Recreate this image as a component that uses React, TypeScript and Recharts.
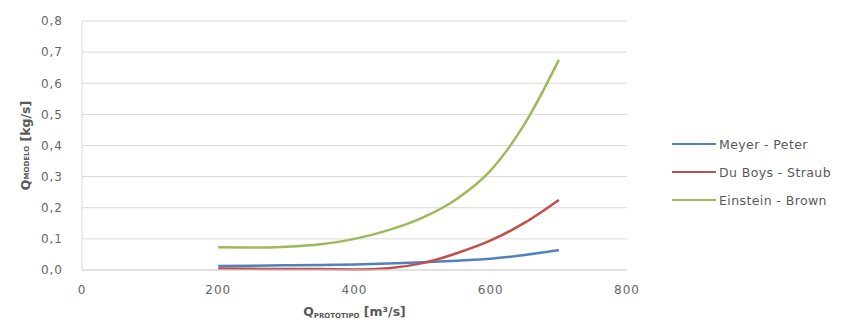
import { LineChart, Line, XAxis, YAxis, CartesianGrid, Legend } from 'recharts';

const flows = [200, 250, 300, 350, 400, 450, 500, 550, 600, 650, 700];
const meyerPeter = [0.013, 0.014, 0.015, 0.016, 0.018, 0.021, 0.025, 0.03, 0.036, 0.048, 0.064];
const duBoysStraub = [0.005, 0.004, 0.003, 0.003, 0.002, 0.006, 0.022, 0.054, 0.095, 0.152, 0.225];
const einsteinBrown = [0.073, 0.072, 0.075, 0.083, 0.1, 0.128, 0.168, 0.228, 0.32, 0.47, 0.675];

const xTicks = [0, 200, 400, 600, 800];
const yTicks = [0, 0.1, 0.2, 0.3, 0.4, 0.5, 0.6, 0.7, 0.8];

const seriesNames = ['Meyer - Peter', 'Du Boys - Straub', 'Einstein - Brown'];
const colors = ['#4F81BD', '#C0504D', '#9BBB59'];

const data = flows.map((q, i) => ({
  q,
  mp: meyerPeter[i],
  dbs: duBoysStraub[i],
  eb: einsteinBrown[i],
}));

const font = '"DejaVu Sans", sans-serif';
const tickStyle = { fontSize: 12, fill: '#666', fontFamily: font, letterSpacing: 1 };

function LegendBox() {
  return (
    <div style={{ fontFamily: font, fontSize: 12.5, color: '#595959', letterSpacing: 0.4, textAlign: 'left' }}>
      {seriesNames.map((name, i) => (
        <div key={name} style={{ display: 'flex', alignItems: 'center', height: 28 }}>
          <span style={{ width: 44, height: 2.5, background: colors[i], marginRight: 3 }} />
          <span>{name}</span>
        </div>
      ))}
    </div>
  );
}

function XTitle(props: any) {
  const { viewBox } = props;
  const cx = viewBox.x + viewBox.width / 2;
  return (
    <text x={cx} y={316} textAnchor="middle" fontFamily={font} fontSize={12.5} fontWeight="bold" fill="#595959">
      Q<tspan fontSize={7} dy={2}>PROTOTIPO</tspan>
      <tspan dy={-2}> [m³/s]</tspan>
    </text>
  );
}

function YTitle(props: any) {
  const { viewBox } = props;
  const cy = viewBox.y + viewBox.height / 2;
  return (
    <text
      x={25}
      y={cy}
      transform={`rotate(-90, 25, ${cy})`}
      textAnchor="middle"
      dominantBaseline="central"
      fontFamily={font}
      fontSize={12.5}
      fontWeight="bold"
      fill="#595959"
    >
      Q<tspan fontSize={7} dy={2}>MODELO</tspan>
      <tspan dy={-2}> [kg/s]</tspan>
    </text>
  );
}

export default function App() {
  return (
    <div style={{ position: 'absolute', left: 0, top: 0, width: 855, height: 325, background: '#fff' }}>
      <LineChart width={855} height={325} data={data} margin={{ top: 21, right: 228, bottom: 25, left: 42 }}>
        <CartesianGrid vertical={false} stroke="#d9d9d9" />
        <XAxis
          dataKey="q"
          type="number"
          domain={[0, 800]}
          ticks={xTicks}
          height={30}
          tickSize={0}
          tickMargin={15}
          stroke="#d9d9d9"
          tick={tickStyle}
          label={<XTitle />}
        />
        <YAxis
          type="number"
          domain={[0, 0.8]}
          ticks={yTicks}
          width={40}
          tickSize={0}
          tickMargin={19}
          stroke="#d9d9d9"
          tick={tickStyle}
          tickFormatter={(v: number) => v.toFixed(1).replace('.', ',')}
          label={<YTitle />}
        />
        <Legend
          layout="horizontal"
          verticalAlign="middle"
          align="center"
          content={<LegendBox />}
          wrapperStyle={{ position: 'absolute', left: 672, top: 130, width: 180 }}
        />
        <Line type="monotone" dataKey="mp" name={seriesNames[0]} stroke={colors[0]} strokeWidth={2.5} dot={false} isAnimationActive={false} />
        <Line type="monotone" dataKey="dbs" name={seriesNames[1]} stroke={colors[1]} strokeWidth={2.5} dot={false} isAnimationActive={false} />
        <Line type="monotone" dataKey="eb" name={seriesNames[2]} stroke={colors[2]} strokeWidth={2.5} dot={false} isAnimationActive={false} />
      </LineChart>
    </div>
  );
}
